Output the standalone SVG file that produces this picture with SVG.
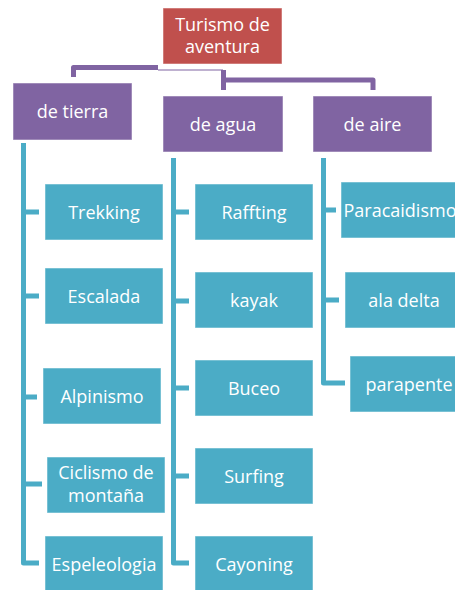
<svg xmlns="http://www.w3.org/2000/svg" width="455" height="590" viewBox="0 0 455 590">
<style>
.red{fill:#C0504D;stroke:#fff;stroke-opacity:.5;stroke-width:1}
.pur{fill:#8064A2;stroke:#fff;stroke-opacity:.5;stroke-width:1}
.cy{fill:#4BACC6;stroke:#fff;stroke-opacity:.5;stroke-width:1}
text{font-family:"Open Sans","Liberation Sans",sans-serif;font-size:18px;fill:#fff;text-anchor:middle}
.pl{fill:none;stroke:#8064A2;stroke-width:5;stroke-linejoin:round}
.cl{fill:none;stroke:#4BACC6;stroke-width:5;stroke-linejoin:round}
</style>
<rect width="455" height="590" fill="#fff"/>
<g id="connectors">
<path class="pl" d="M73.5,77 V67.5 H158"/>
<path d="M158,70 H223" fill="none" stroke="#8064A2" stroke-width="1.2"/>
<path class="pl" d="M223.5,70 V90 M223.5,80 H373 V90"/>
<path class="cl" d="M23.5,143 V563 H39 M23.5,212 H39 M23.5,296 H39 M23.5,397 H37 M23.5,484 H42"/>
<path class="cl" d="M173.5,158 V563 H189 M173.5,212 H189 M173.5,301 H189 M173.5,388 H189 M173.5,476 H189"/>
<path class="cl" d="M323.5,158 V383 H345 M323.5,210 H336 M323.5,300 H339"/>
</g>
<g id="turismo"><rect class="red" x="163" y="8" width="119" height="56"/><text x="222.5" y="31">Turismo de</text><text x="222.5" y="53">aventura</text></g>
<g id="tierra"><rect class="pur" x="13" y="83" width="119" height="57"/><text x="72.5" y="118">de tierra</text></g>
<g id="agua"><rect class="pur" x="163" y="96" width="120" height="56"/><text x="223" y="130.5">de agua</text></g>
<g id="aire"><rect class="pur" x="313" y="96" width="119" height="56"/><text x="372.5" y="130.5">de aire</text></g>
<g id="trekking"><rect class="cy" x="45" y="184" width="118" height="56"/><text x="104" y="218.5">Trekking</text></g>
<g id="escalada"><rect class="cy" x="45" y="268" width="118" height="56"/><text x="104" y="302.5">Escalada</text></g>
<g id="alpinismo"><rect class="cy" x="43" y="368" width="118" height="56"/><text x="102" y="402.5">Alpinismo</text></g>
<g id="ciclismo"><rect class="cy" x="47" y="457" width="118" height="56"/><text x="106" y="479">Ciclismo de</text><text x="106" y="502">montaña</text></g>
<g id="espeleologia"><rect class="cy" x="45" y="536" width="118" height="57"/><text x="104" y="570.5">Espeleologia</text></g>
<g id="raffting"><rect class="cy" x="195" y="184" width="118" height="56"/><text x="254" y="218.5">Raffting</text></g>
<g id="kayak"><rect class="cy" x="195" y="272" width="118" height="56"/><text x="254" y="306.5">kayak</text></g>
<g id="buceo"><rect class="cy" x="195" y="360" width="118" height="56"/><text x="254" y="394.5">Buceo</text></g>
<g id="surfing"><rect class="cy" x="195" y="448" width="118" height="56"/><text x="254" y="482.5">Surfing</text></g>
<g id="cayoning"><rect class="cy" x="195" y="536" width="118" height="57"/><text x="254" y="570.5">Cayoning</text></g>
<g id="paracaidismo"><rect class="cy" x="341" y="182" width="118" height="56"/><text x="400" y="216.5">Paracaidismo</text></g>
<g id="aladelta"><rect class="cy" x="345" y="272" width="118" height="56"/><text x="404" y="306.5">ala delta</text></g>
<g id="parapente"><rect class="cy" x="350" y="356" width="118" height="56"/><text x="409" y="390.5">parapente</text></g>
</svg>
